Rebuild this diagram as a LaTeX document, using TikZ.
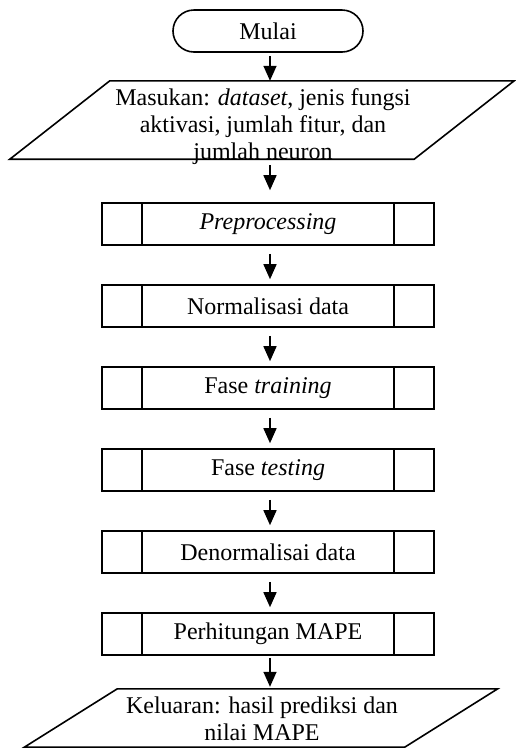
\documentclass[tikz,border=0pt]{standalone}
\usepackage{fontspec}
\setmainfont{Liberation Serif}
\usetikzlibrary{shapes.misc,arrows.meta}
\begin{document}
\begin{tikzpicture}[x=1pt,y=1pt,
  every node/.style={font=\fontsize{24}{27}\selectfont, inner sep=0pt, align=center},
  shp/.style={draw, line width=1.6pt},
  term/.style={shp, rounded rectangle, minimum width=190pt, minimum height=42pt},
  pbox/.style={shp, rectangle, minimum width=332pt, minimum height=42pt},
  ghost/.style={rectangle, inner sep=0pt},
  arr/.style={line width=1.5pt, -{Triangle[width=13pt,length=15pt]}},
  ]
\useasboundingbox (0,0) rectangle (516,-748);
\coordinate (ax) at (270,0);

% start
\node[term] (start) at (268,-31) {Mulai};

% input parallelogram
\node[ghost, minimum width=404pt, minimum height=78pt] (in) at (262,-120) {};
\draw[shp] ([xshift=50pt]in.north west) -- ([xshift=50pt]in.north east)
  -- ([xshift=-50pt]in.south east) -- ([xshift=-50pt]in.south west) -- cycle;
\node (intext) at (263,-126.5) {Masukan: \textit{dataset}, jenis fungsi\\aktivasi, jumlah fitur, dan\\jumlah neuron};

% predefined process boxes
\node[pbox] (b1) at (268,-224) {\textit{Preprocessing}};
\node[pbox] (b2) at (268,-306) {Normalisasi data};
\node[pbox] (b3) at (268,-388) {Fase \textit{training}};
\node[pbox] (b4) at (268,-470) {Fase \textit{testing}};
\node[pbox] (b5) at (268,-552) {Denormalisai data};
\node[pbox] (b6) at (268,-634) {Perhitungan MAPE};
\foreach \b in {b1,b2,b3,b4,b5,b6}{
  \draw[shp] ([xshift=41pt]\b.north west) -- ([xshift=41pt]\b.south west);
  \draw[shp] ([xshift=-41pt]\b.north east) -- ([xshift=-41pt]\b.south east);
}

% output parallelogram
\node[ghost, minimum width=380pt, minimum height=58pt] (out) at (261,-718) {};
\draw[shp] ([xshift=46.5pt]out.north west) -- ([xshift=46.5pt]out.north east)
  -- ([xshift=-46.5pt]out.south east) -- ([xshift=-46.5pt]out.south west) -- cycle;
\node (outtext) at (262,-718.7) {Keluaran: hasil prediksi dan\\nilai MAPE};

% connectors
\draw[arr, shorten <=3pt] (start.south -| ax) -- (in.north -| ax);
\draw[arr, shorten <=6pt, shorten >=12pt] (in.south -| ax) -- (b1.north -| ax);
\draw[arr, shorten <=8pt, shorten >=5pt] (b1.south -| ax) -- (b2.north -| ax);
\draw[arr, shorten <=8pt, shorten >=5pt] (b2.south -| ax) -- (b3.north -| ax);
\draw[arr, shorten <=8pt, shorten >=5pt] (b3.south -| ax) -- (b4.north -| ax);
\draw[arr, shorten <=8pt, shorten >=5pt] (b4.south -| ax) -- (b5.north -| ax);
\draw[arr, shorten <=8pt, shorten >=5pt] (b5.south -| ax) -- (b6.north -| ax);
\draw[arr, shorten <=2pt, shorten >=2pt] (b6.south -| ax) -- (out.north -| ax);
\end{tikzpicture}
\end{document}
